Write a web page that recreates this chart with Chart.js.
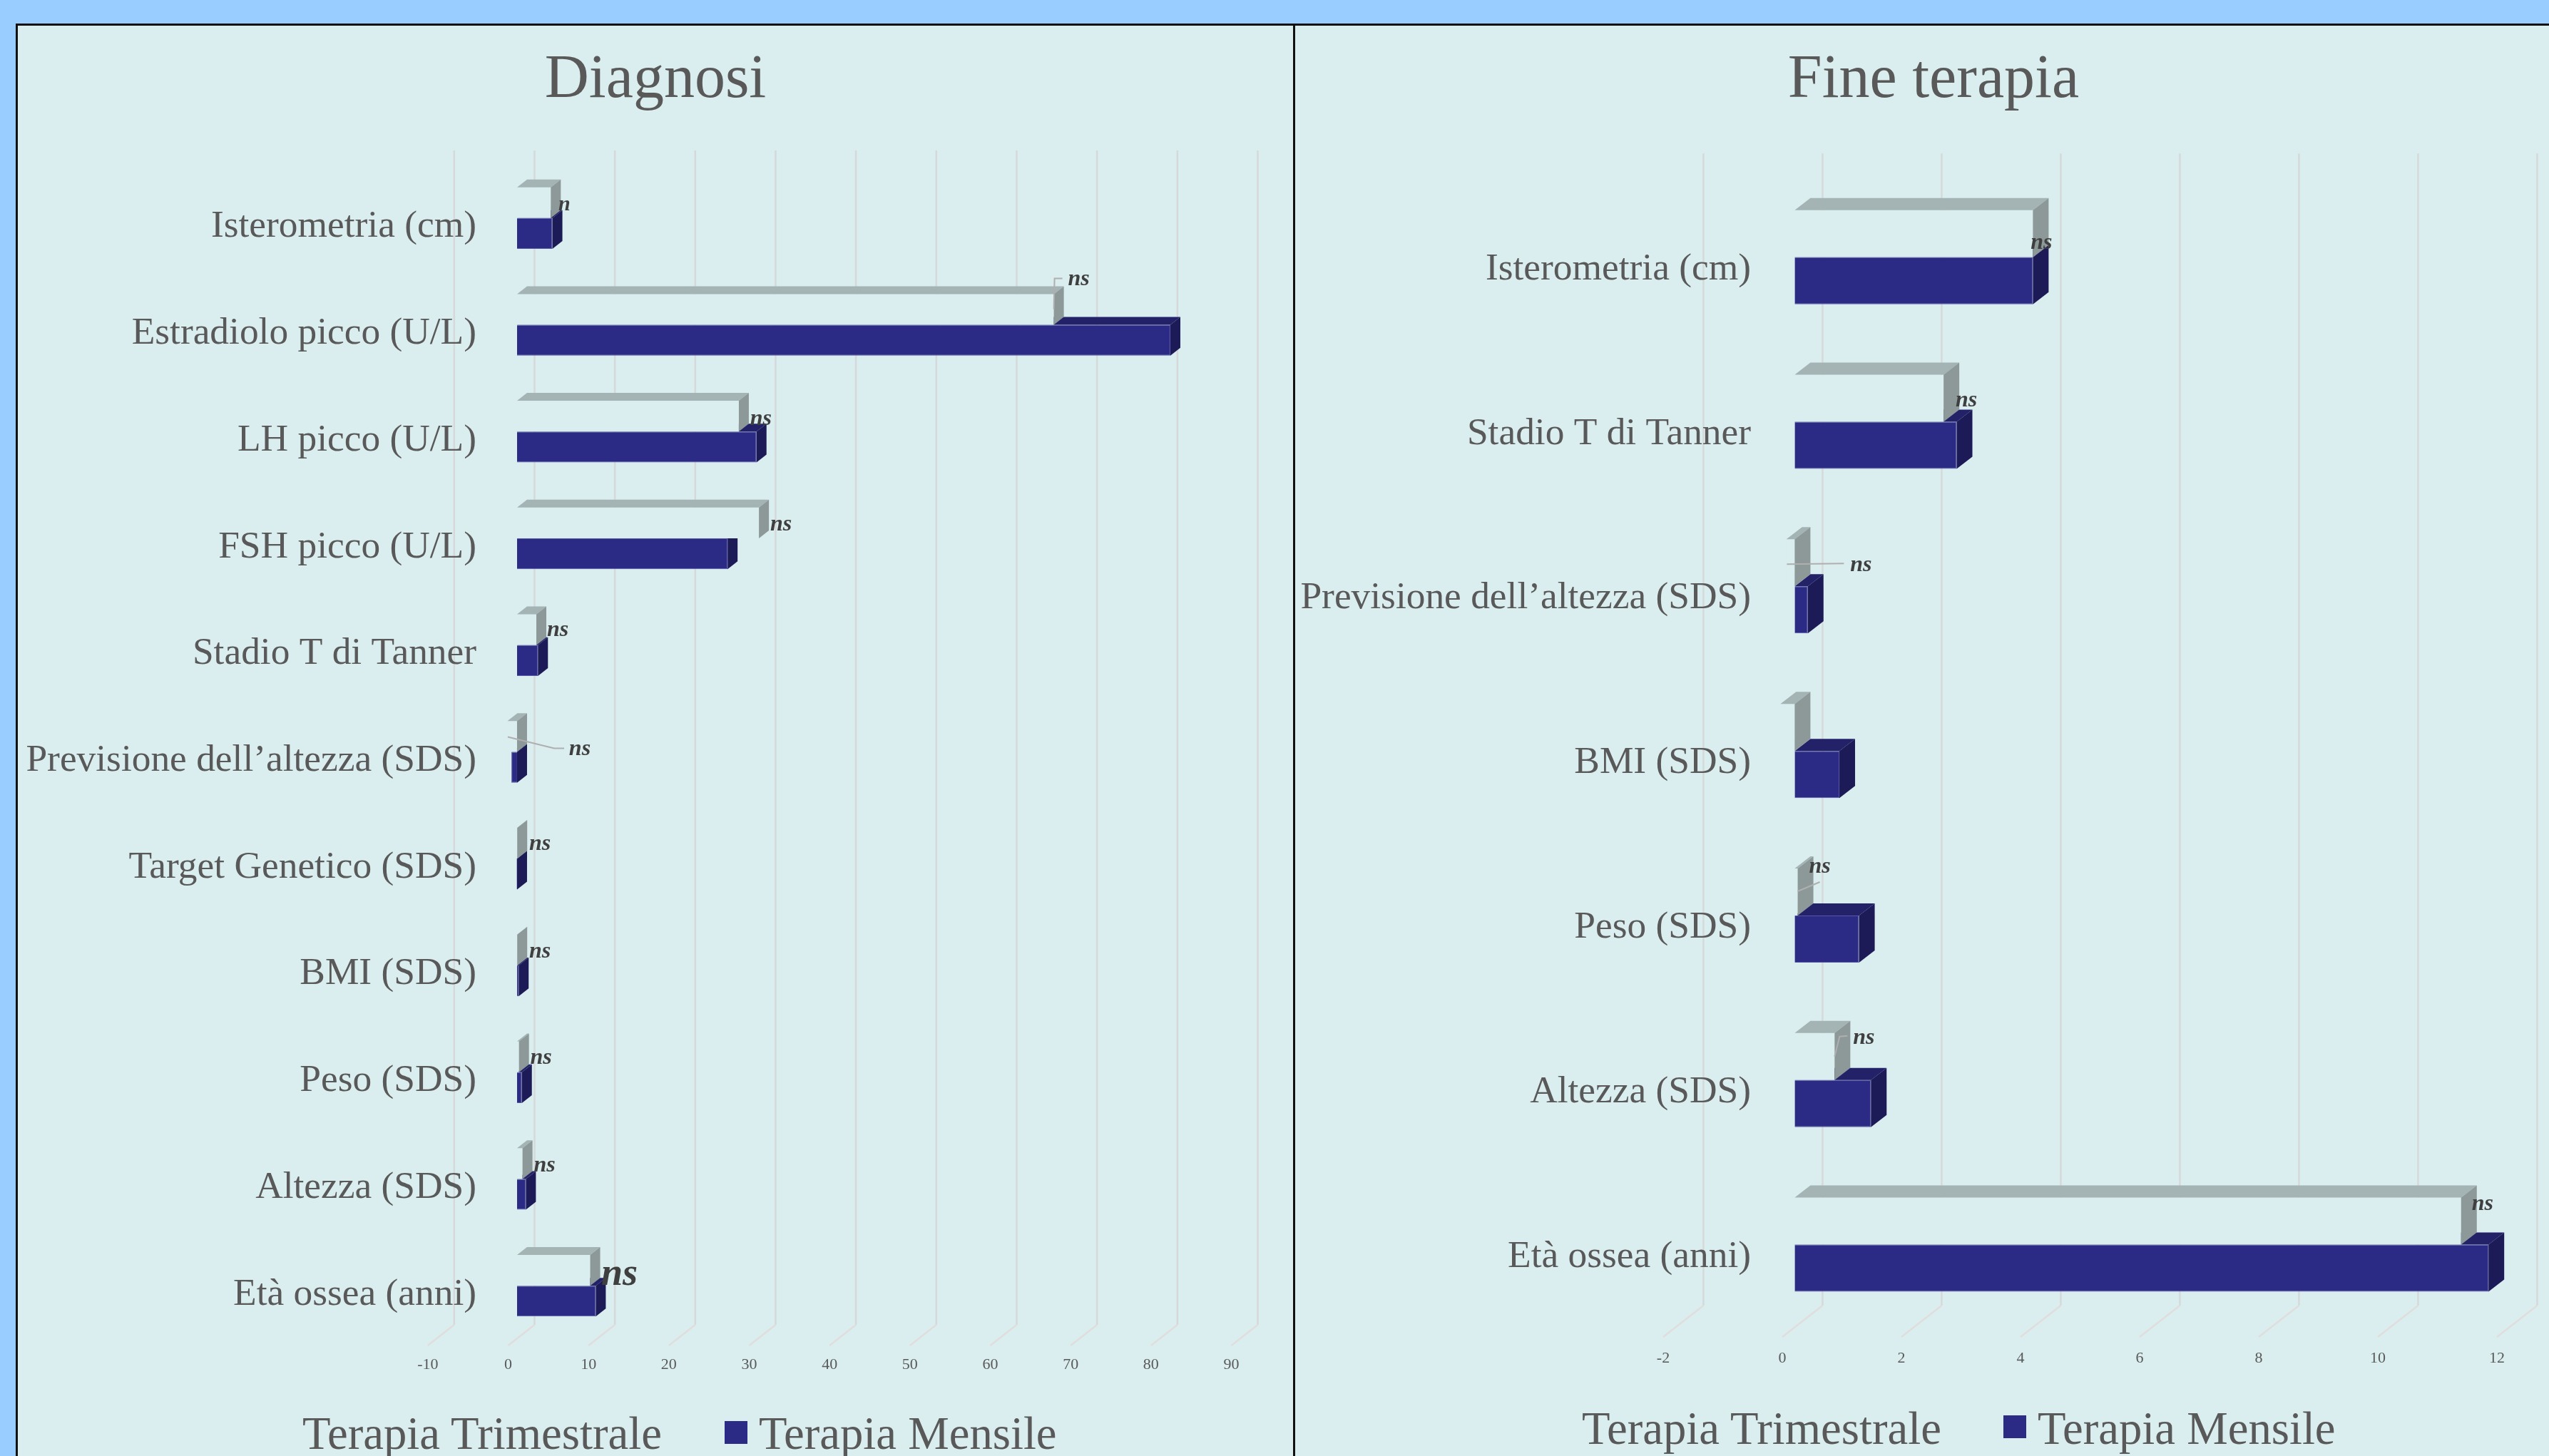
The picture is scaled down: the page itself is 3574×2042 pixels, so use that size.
<!DOCTYPE html>
<html>
<head>
<meta charset="utf-8">
<style>
    html, body { margin: 0; padding: 0; width: 3574px; height: 2042px; overflow: hidden; background: #99CCFF; }
    .panel { position: absolute; top: 33px; height: 2042px; background: #DAEDEF; border-top: 3px solid #111; box-sizing: border-box; }
    #panelA { left: 22px; width: 1794px; border-left: 3px solid #111; border-right: 3px solid #111; }
    #panelB { left: 1816px; width: 1790px; }
    canvas { position: absolute; left: 0; top: 0; }
    .legendText { position: absolute; font: 64.7px "Liberation Serif"; line-height: 74px; color: #595959; white-space: nowrap; }
    .legendBox { position: absolute; width: 32px; height: 32px; }
</style>
<script src="https://cdn.jsdelivr.net/npm/chart.js@4"></script>
</head>
<body>
<div class="panel" id="panelA"><canvas id="chartA" width="1788" height="2006"></canvas></div>
<div class="panel" id="panelB"><canvas id="chartB" width="1790" height="2006"></canvas></div>
<script>
const seriesNames = ["Terapia Trimestrale", "Terapia Mensile"];

const categoriesA = ["Isterometria (cm)", "Estradiolo picco (U/L)", "LH picco (U/L)", "FSH picco (U/L)", "Stadio T di Tanner",
    "Previsione dell’altezza (SDS)", "Target Genetico (SDS)", "BMI (SDS)", "Peso (SDS)", "Altezza (SDS)", "Età ossea (anni)"];
const trimestraleA = [4.2, 66.8, 27.6, 30.1, 2.4, -1.2, 0.02, 0.02, 0.24, 0.68, 9.1];
const mensileA = [4.4, 81.3, 29.8, 26.2, 2.6, -0.7, -0.05, 0.2, 0.6, 1.1, 9.8];
const notesA = ["n", "ns", "ns", "ns", "ns", "ns", "ns", "ns", "ns", "ns", "ns"];

const categoriesB = ["Isterometria (cm)", "Stadio T di Tanner", "Previsione dell’altezza (SDS)", "BMI (SDS)", "Peso (SDS)", "Altezza (SDS)", "Età ossea (anni)"];
const trimestraleB = [4.0, 2.5, -0.14, -0.24, 0.05, 0.67, 11.19];
const mensileB = [4.0, 2.72, 0.22, 0.75, 1.08, 1.28, 11.65];
const notesB = ["ns", "ns", "ns", "", "ns", "ns", "ns"];

// colori
const panelColor = "#DAEDEF";
const textColor = "#595959";
const labelSize = 53.4;
const faces = [
    { front: panelColor, top: "#A4B4B4", side: "#8D9899" },
    { front: "#2B2B86", top: "#232268", side: "#1C1B58" }
];

// posizione delle scritte "ns": pixel dalla fine della barra trimestrale e dal centro della categoria
const noteOffsetsA = [[19, -19], [35, -64], [31, -18], [31, -19], [30, -21], [88, -4], [32, -20], [32, -19], [31, -20], [31, -19], [41, -15]];
const noteSizesA = [30, 32, 32, 32, 32, 32, 32, 32, 32, 32, 54];
const leadersA = { 1: [[0, -22], [1, -65], [12, -65]], 5: [[-13, -21], [52, -5], [66, -5]] };

const noteOffsetsB = [[12, -20], [32, -30], [93, -30], [0, 0], [31, -68], [41, -59], [30, -57]];
const noteSizesB = [32, 32, 32, 32, 32, 32, 32];
const leadersB = { 2: [[-11, -31], [69, -32]], 4: [[0, -34], [31, -47]], 5: [[0, -33], [7, -61], [18, -62]] };

function poly(ctx, color, pts) {
    ctx.fillStyle = color;
    ctx.beginPath();
    pts.forEach((p, i) => i ? ctx.lineTo(p[0], p[1]) : ctx.moveTo(p[0], p[1]));
    ctx.closePath();
    ctx.fill();
}

// griglia finta 3D, facce delle barre e note
function fake3d(cfg) {
    return {
        id: "fake3d",
        beforeDraw(chart) {
            const ctx = chart.ctx, x = chart.scales.x, area = chart.chartArea;
            ctx.save();
            ctx.lineWidth = 2.5;
            x.ticks.forEach(t => {
                const px = x.getPixelForValue(t.value);
                ctx.strokeStyle = "#D6D9D9";
                ctx.beginPath();
                ctx.moveTo(px + cfg.back[0], area.top + cfg.back[1]);
                ctx.lineTo(px + cfg.back[0], area.bottom + cfg.back[1]);
                ctx.stroke();
                ctx.strokeStyle = "#E0DEDC";
                ctx.beginPath();
                ctx.moveTo(px + cfg.back[0], area.bottom + cfg.back[1]);
                ctx.lineTo(px + cfg.front[0], area.bottom + cfg.front[1]);
                ctx.stroke();
            });
            ctx.restore();
        },
        afterDatasetDraw(chart, args) {
            const ctx = chart.ctx, f = faces[args.index], dx = cfg.depth[0], dy = cfg.depth[1];
            ctx.save();
            args.meta.data.forEach(bar => {
                const l = Math.min(bar.x, bar.base), r = Math.max(bar.x, bar.base);
                const t = bar.y - bar.height / 2, b = bar.y + bar.height / 2;
                poly(ctx, f.top, [[l, t], [l + dx, t - dy], [r + dx, t - dy], [r, t]]);
                poly(ctx, f.side, [[r, t], [r + dx, t - dy], [r + dx, b - dy], [r, b]]);
            });
            ctx.restore();
        },
        afterDatasetsDraw(chart) {
            const ctx = chart.ctx, bars = chart.getDatasetMeta(0).data, y = chart.scales.y;
            ctx.save();
            ctx.textAlign = "center";
            ctx.textBaseline = "middle";
            bars.forEach((bar, i) => {
                const endX = Math.max(bar.x, bar.base), midY = y.getPixelForTick(i);
                const line = cfg.leaders[i];
                if (line) {
                    ctx.strokeStyle = "#AFAFAF";
                    ctx.lineWidth = 2;
                    ctx.beginPath();
                    line.forEach((p, k) => k ? ctx.lineTo(endX + p[0], midY + p[1]) : ctx.moveTo(endX + p[0], midY + p[1]));
                    ctx.stroke();
                }
                if (cfg.notes[i]) {
                    ctx.fillStyle = "#3F3F3F";
                    ctx.font = "italic bold " + cfg.noteSizes[i] + "px 'Liberation Serif'";
                    ctx.fillText(cfg.notes[i], endX + cfg.noteOffsets[i][0], midY + cfg.noteOffsets[i][1]);
                }
            });
            ctx.restore();
        }
    };
}

function makeChart(id, cfg) {
    const ctx = document.getElementById(id).getContext("2d");
    // con mirror le etichette non vengono tagliate dal riquadro dell'asse, ma il padding parte dalla piu' larga
    ctx.font = labelSize + "px 'Liberation Serif'";
    const widest = Math.max(...cfg.categories.map(c => ctx.measureText(c).width));
    return new Chart(ctx, {
        type: "bar",
        data: {
            labels: cfg.categories,
            datasets: [
                { label: seriesNames[0], data: cfg.trimestrale, backgroundColor: faces[0].front, borderWidth: 0, barPercentage: 1, categoryPercentage: cfg.catPct },
                { label: seriesNames[1], data: cfg.mensile, backgroundColor: faces[1].front, borderColor: "#5856A8", borderWidth: 1, barPercentage: 1, categoryPercentage: cfg.catPct }
            ]
        },
        options: {
            indexAxis: "y",
            responsive: false,
            animation: false,
            devicePixelRatio: 1,
            layout: { padding: { left: cfg.padSide, right: cfg.padSide } },
            plugins: {
                legend: { display: false },
                tooltip: { enabled: false },
                title: {
                    display: true,
                    text: cfg.title,
                    color: textColor,
                    font: { family: "Liberation Serif", size: 86, weight: "normal", lineHeight: 1.2 },
                    padding: { top: 26, bottom: cfg.titleBottom }
                }
            },
            scales: {
                x: {
                    min: cfg.min,
                    max: cfg.max,
                    border: { display: false },
                    grid: { display: false, drawTicks: false },
                    ticks: {
                        stepSize: cfg.step,
                        color: textColor,
                        autoSkip: false,
                        maxRotation: 0,
                        labelOffset: cfg.front[0],
                        padding: cfg.tickPad,
                        font: { family: "Liberation Serif", size: 22 }
                    },
                    afterFit: s => { s.height = cfg.xHeight; }
                },
                y: {
                    border: { display: false },
                    grid: { display: false, drawTicks: false },
                    ticks: {
                        color: textColor,
                        autoSkip: false,
                        mirror: true,
                        crossAlign: "far",
                        labelOffset: cfg.labelDown,
                        padding: cfg.labelPad - widest,
                        font: { family: "Liberation Serif", size: labelSize }
                    },
                    afterFit: s => { s.width = cfg.yWidth; }
                }
            }
        },
        plugins: [fake3d(cfg)]
    });
}

makeChart("chartA", {
    title: "Diagnosi", categories: categoriesA, trimestrale: trimestraleA, mensile: mensileA,
    notes: notesA, noteOffsets: noteOffsetsA, noteSizes: noteSizesA, leaders: leadersA,
    min: -10, max: 90, step: 10, catPct: 0.577, depth: [14, 11], back: [24.5, -20], front: [-12.5, 9],
    padSide: 74, titleBottom: 65.8, xHeight: 164, yWidth: 513.3, tickPad: 23, labelDown: 12.5, labelPad: 55.7
});

makeChart("chartB", {
    title: "Fine terapia", categories: categoriesB, trimestrale: trimestraleB, mensile: mensileB,
    notes: notesB, noteOffsets: noteOffsetsB, noteSizes: noteSizesB, leaders: leadersB,
    min: -2, max: 12, step: 2, catPct: 0.572, depth: [22, 17], back: [39, -30], front: [-17.4, 14],
    padSide: 87.6, titleBottom: 80.1, xHeight: 181, yWidth: 445.8, tickPad: 31, labelDown: 17, labelPad: 105.6
});

// legenda HTML (la legenda di Chart.js lascia troppo spazio tra quadrato e testo)
function legend(panelId, items) {
    const panel = document.getElementById(panelId);
    const r = panel.getBoundingClientRect();
    items.forEach((it, i) => {
        const box = document.createElement("div");
        box.className = "legendBox";
        box.style.left = (it.boxX - r.left - panel.clientLeft) + "px";
        box.style.top = (it.boxY - r.top - panel.clientTop) + "px";
        box.style.background = faces[i].front;
        panel.appendChild(box);
        const txt = document.createElement("div");
        txt.className = "legendText";
        txt.textContent = seriesNames[i];
        txt.style.left = (it.textX - r.left - panel.clientLeft) + "px";
        txt.style.top = (it.textY - r.top - panel.clientTop) + "px";
        panel.appendChild(txt);
    });
}

legend("panelA", [{ boxX: 376, boxY: 1993, textX: 424, textY: 1973 }, { boxX: 1016, boxY: 1993, textX: 1064, textY: 1973 }]);
legend("panelB", [{ boxX: 2169, boxY: 1985, textX: 2218, textY: 1966 }, { boxX: 2809, boxY: 1985, textX: 2857, textY: 1966 }]);
</script>
</body>
</html>
